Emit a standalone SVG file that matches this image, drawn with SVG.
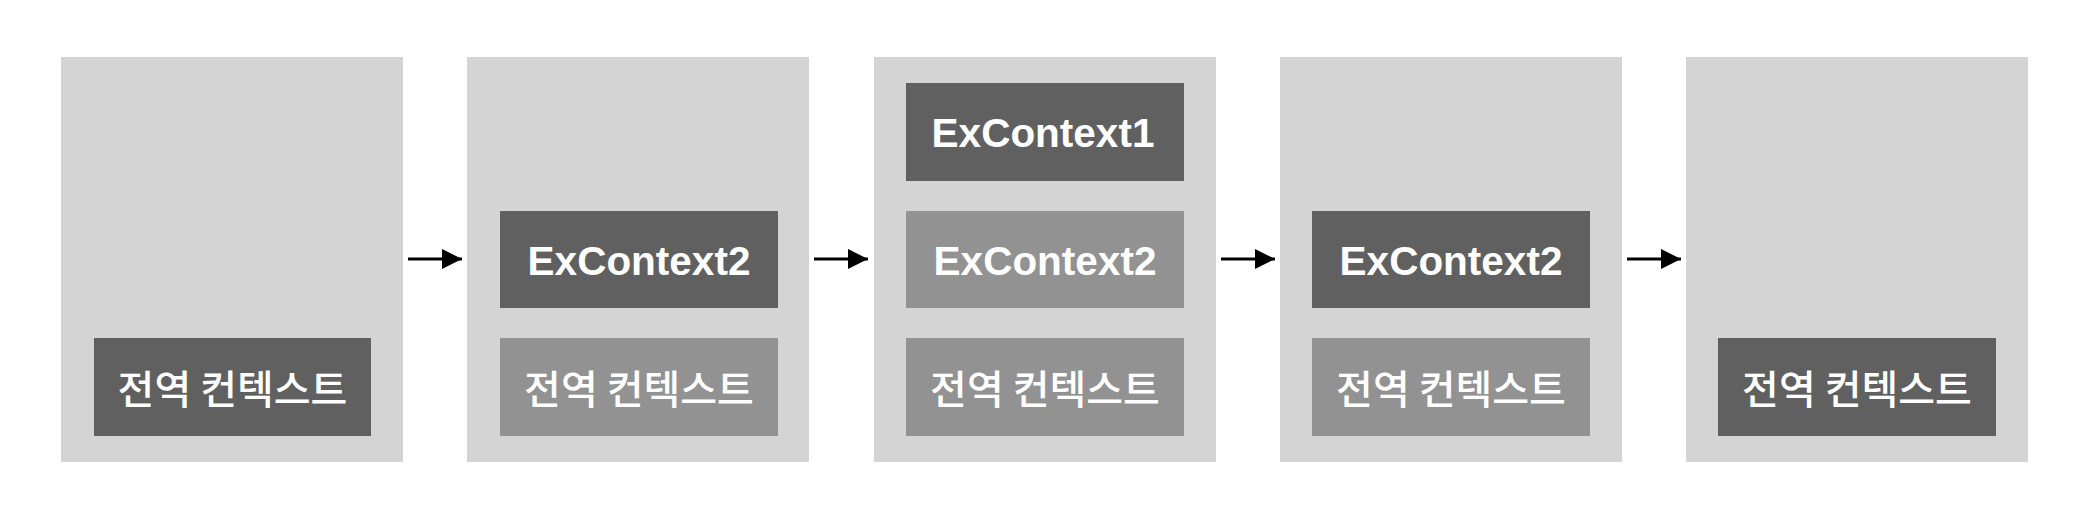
<svg xmlns="http://www.w3.org/2000/svg" width="2080" height="510" viewBox="0 0 2080 510">
<style>
.panel{fill:#d4d4d4}
.dark{fill:#606060}
.light{fill:#929292}
.en{font-family:"Liberation Sans",Arial,sans-serif;font-weight:700;font-size:40.5px;fill:#fff;text-anchor:middle}
.ko{font-family:"Noto Sans CJK KR",sans-serif;font-weight:500;font-size:40px;fill:#fff;text-anchor:middle;dominant-baseline:central}
.conn{stroke:#000;stroke-width:3;fill:none}
</style>
<defs>
<marker id="ah" markerWidth="20" markerHeight="20" refX="20" refY="10" orient="auto" markerUnits="userSpaceOnUse">
<path d="M0,0 L20,10 L0,20 Z" fill="#000"/>
</marker>
</defs>
<rect width="2080" height="510" fill="#fff"/>
<g id="stage1">
<rect class="panel" x="61" y="57" width="342" height="405"/>
<g id="s1-global"><rect class="dark" x="94" y="338" width="277" height="98"/><text class="ko" x="232.5" y="387">전역 컨텍스트</text></g>
</g>
<g id="stage2">
<rect class="panel" x="467" y="57" width="342" height="405"/>
<g id="s2-ex2"><rect class="dark" x="500" y="211" width="278" height="97"/><text class="en" x="639" y="275">ExContext2</text></g>
<g id="s2-global"><rect class="light" x="500" y="338" width="278" height="98"/><text class="ko" x="639" y="387">전역 컨텍스트</text></g>
</g>
<g id="stage3">
<rect class="panel" x="874" y="57" width="342" height="405"/>
<g id="s3-ex1"><rect class="dark" x="906" y="83" width="278" height="98"/><text class="en" x="1043" y="147">ExContext1</text></g>
<g id="s3-ex2"><rect class="light" x="906" y="211" width="278" height="97"/><text class="en" x="1045" y="275">ExContext2</text></g>
<g id="s3-global"><rect class="light" x="906" y="338" width="278" height="98"/><text class="ko" x="1045" y="387">전역 컨텍스트</text></g>
</g>
<g id="stage4">
<rect class="panel" x="1280" y="57" width="342" height="405"/>
<g id="s4-ex2"><rect class="dark" x="1312" y="211" width="278" height="97"/><text class="en" x="1451" y="275">ExContext2</text></g>
<g id="s4-global"><rect class="light" x="1312" y="338" width="278" height="98"/><text class="ko" x="1451" y="387">전역 컨텍스트</text></g>
</g>
<g id="stage5">
<rect class="panel" x="1686" y="57" width="342" height="405"/>
<g id="s5-global"><rect class="dark" x="1718" y="338" width="278" height="98"/><text class="ko" x="1857" y="387">전역 컨텍스트</text></g>
</g>
<g id="connectors">
<line class="conn" x1="408" y1="259" x2="462" y2="259" marker-end="url(#ah)"/>
<line class="conn" x1="814" y1="259" x2="868" y2="259" marker-end="url(#ah)"/>
<line class="conn" x1="1221" y1="259" x2="1275" y2="259" marker-end="url(#ah)"/>
<line class="conn" x1="1627" y1="259" x2="1681" y2="259" marker-end="url(#ah)"/>
</g>
</svg>
